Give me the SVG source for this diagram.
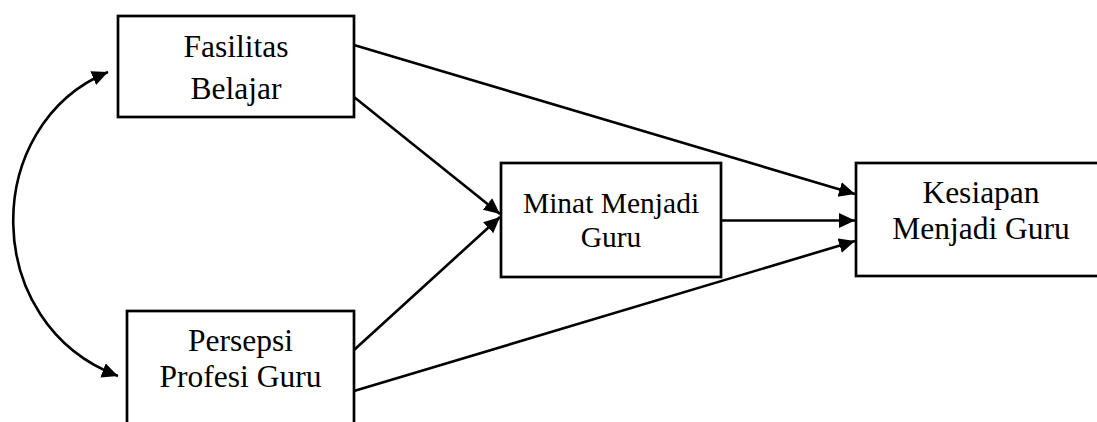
<svg xmlns="http://www.w3.org/2000/svg" width="1097" height="422" viewBox="0 0 1097 422">
  <style>
    .box { fill: #ffffff; stroke: #000000; stroke-width: 2.7; }
    .lbl { font-family: "Liberation Serif", "Times New Roman", serif; font-size: 31.5px; fill: #000000; text-anchor: middle; }
    .lbl.sm { font-size: 29.5px; }
    .edge { fill: none; stroke: #000000; stroke-width: 2.6; marker-end: url(#head); }
  </style>
  <defs>
    <marker id="head" markerUnits="userSpaceOnUse" markerWidth="18" markerHeight="16" refX="16" refY="7.5" orient="auto-start-reverse">
      <path d="M0,0 L16,7.5 L0,15 Z" fill="#000000"/>
    </marker>
  </defs>

  <rect width="1097" height="422" fill="#ffffff"/>

  <g id="connectors">
    <!-- correlation between the two exogenous variables -->
    <path class="edge" style="marker-start: url(#head)" d="M108,72 C-20,125 -20,324 118,376"/>
    <path class="edge" d="M354,45 L855,194"/>
    <path class="edge" d="M354,97 L500,214"/>
    <path class="edge" d="M354,350 L500,217"/>
    <path class="edge" d="M721,220.5 L855,220.5"/>
    <path class="edge" d="M354,391 L855,241"/>
  </g>

  <g id="fasilitas">
    <rect class="box" x="118" y="16" width="236" height="101"/>
    <text class="lbl" x="236" y="57">Fasilitas</text>
    <text class="lbl" x="236" y="99">Belajar</text>
  </g>

  <g id="persepsi">
    <rect class="box" x="127" y="311" width="227" height="120"/>
    <text class="lbl" x="240.5" y="351">Persepsi</text>
    <text class="lbl" x="240.5" y="387">Profesi Guru</text>
  </g>

  <g id="minat">
    <rect class="box" x="501" y="163" width="220" height="114"/>
    <text class="lbl sm" x="611" y="213">Minat Menjadi</text>
    <text class="lbl sm" x="611" y="247">Guru</text>
  </g>

  <g id="kesiapan">
    <rect class="box" x="856" y="163" width="250" height="113"/>
    <text class="lbl" x="981" y="203">Kesiapan</text>
    <text class="lbl" x="981" y="239">Menjadi Guru</text>
  </g>
</svg>
